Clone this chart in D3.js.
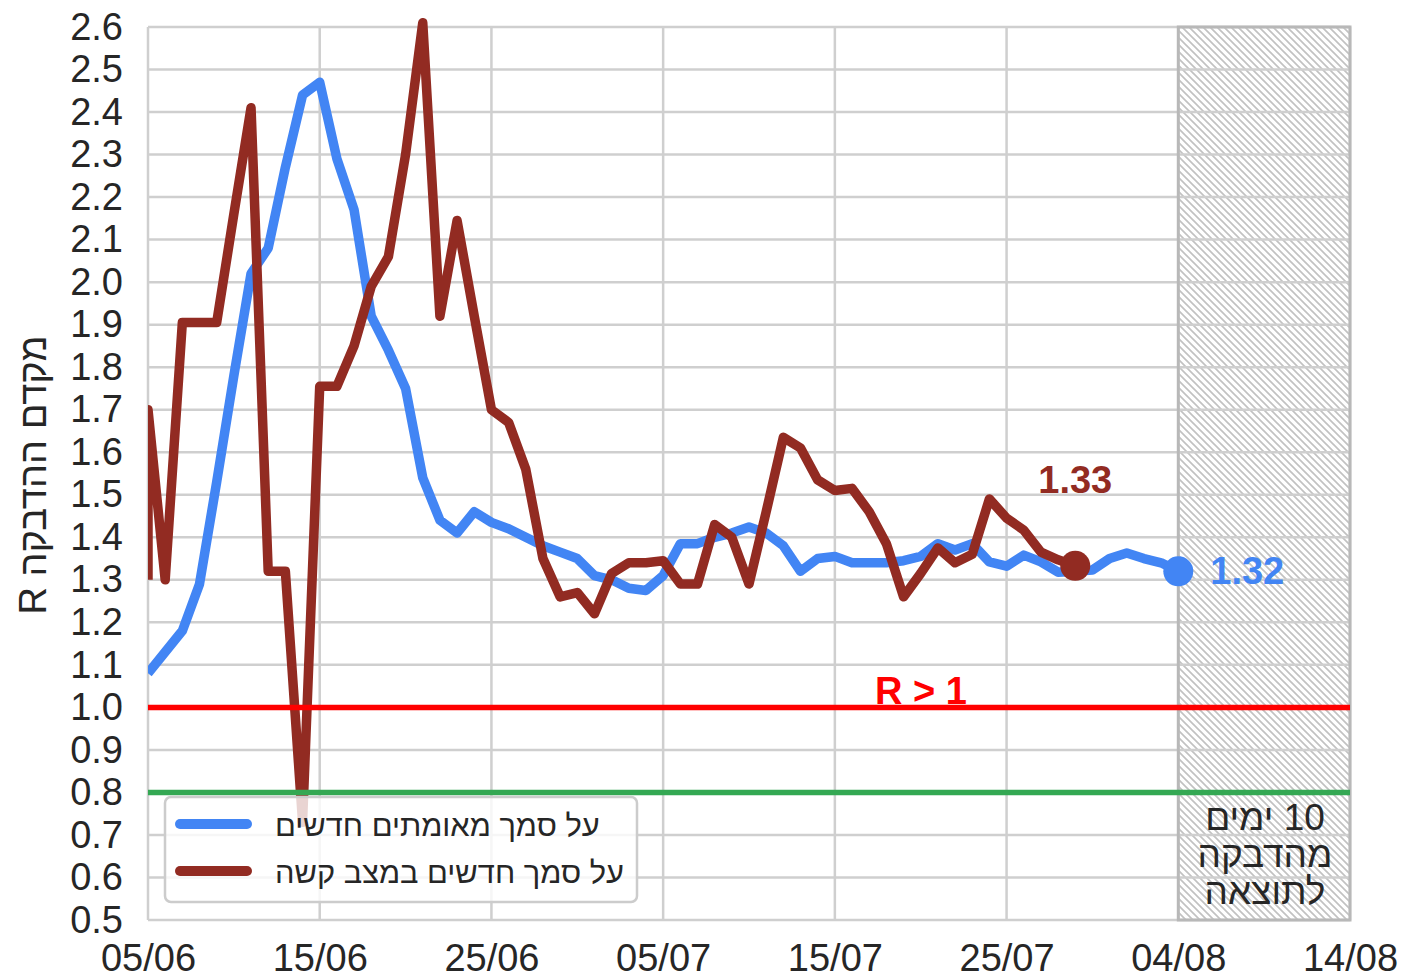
<!DOCTYPE html>
<html>
<head>
<meta charset="utf-8">
<script src="https://cdn.jsdelivr.net/npm/d3@7"></script>
<style>
  body { margin: 0; background: #fff; }
  svg text { font-family: "Liberation Sans", Arial, sans-serif; fill: #262626; }
</style>
</head>
<body>
<svg id="chart" width="1404" height="978"></svg>
<script>
(function() {
    // R estimate based on new confirmed cases, one value per day from 05/06
    const confirmedStart = "2020-06-05";
    const confirmedR = [1.08, 1.13, 1.18, 1.29, 1.53, 1.78, 2.02, 2.08, 2.27, 2.44,
        2.47, 2.29, 2.17, 1.92, 1.84, 1.75, 1.54, 1.44, 1.41, 1.46,
        1.435, 1.42, 1.40, 1.38, 1.365, 1.35, 1.31, 1.30, 1.28, 1.275,
        1.31, 1.385, 1.385, 1.40, 1.41, 1.424, 1.41, 1.38, 1.32, 1.35,
        1.355, 1.34, 1.34, 1.34, 1.345, 1.355, 1.385, 1.37, 1.385, 1.342,
        1.332, 1.358, 1.342, 1.318, 1.32, 1.323, 1.35, 1.363, 1.35, 1.34,
        1.32];

    // R estimate based on new severe cases, one value per day from 04/06
    const severeStart = "2020-06-04";
    const severeR = [1.30, 1.70, 1.30, 1.905, 1.905, 1.905, 2.16, 2.41, 1.32, 1.32,
        0.73, 1.755, 1.755, 1.85, 1.99, 2.06, 2.30, 2.61, 1.92, 2.145,
        1.92, 1.70, 1.67, 1.56, 1.35, 1.26, 1.27, 1.22, 1.315, 1.34,
        1.34, 1.345, 1.29, 1.29, 1.43, 1.40, 1.29, 1.46, 1.635, 1.61,
        1.535, 1.51, 1.515, 1.46, 1.385, 1.26, 1.315, 1.375, 1.34, 1.36,
        1.49, 1.445, 1.417, 1.365, 1.347, 1.333];

    const xTickDates = ["2020-06-05", "2020-06-15", "2020-06-25", "2020-07-05",
        "2020-07-15", "2020-07-25", "2020-08-04", "2020-08-14"];
    const yTickValues = [0.5, 0.6, 0.7, 0.8, 0.9, 1.0, 1.1, 1.2, 1.3, 1.4, 1.5,
        1.6, 1.7, 1.8, 1.9, 2.0, 2.1, 2.2, 2.3, 2.4, 2.5, 2.6];
    const thresholds = [1.0, 0.8];
    const lagStart = "2020-08-04";   // last 10 days: infection -> result lag

    const seriesNames = ["על סמך מאומתים חדשים", "על סמך חדשים במצב קשה"];
    const blue = "#4285f4", brown = "#922b22";

    const left = 148, right = 1350, top = 27, bottom = 920;
    const parse = d3.utcParse("%Y-%m-%d");

    const x = d3.scaleUtc()
        .domain([parse(xTickDates[0]), parse(xTickDates[xTickDates.length - 1])])
        .range([left, right])
        .clamp(true);
    const y = d3.scaleLinear().domain([0.5, 2.6]).range([bottom, top]);

    const toSeries = (start, values) => values.map((v, i) => ({
        date: d3.utcDay.offset(parse(start), i), value: v
    }));
    const confirmed = toSeries(confirmedStart, confirmedR);
    const severe = toSeries(severeStart, severeR);

    const svg = d3.select("#chart");
    const defs = svg.append("defs");

    // hatch for the last 10 days
    const pat = defs.append("pattern")
        .attr("id", "hatch")
        .attr("patternUnits", "userSpaceOnUse")
        .attr("width", 7).attr("height", 7);
    pat.append("path")
        .attr("d", "M0,0L7,7M-2,5L2,9M5,-2L9,2")
        .attr("stroke", "#c2c2c2")
        .attr("stroke-width", 1.7);

    defs.append("clipPath").attr("id", "plotclip")
        .append("rect")
        .attr("x", left).attr("y", 0)
        .attr("width", right - left).attr("height", 978);

    // hatched region
    svg.append("rect")
        .attr("x", x(parse(lagStart)))
        .attr("y", top)
        .attr("width", x(parse(xTickDates[xTickDates.length - 1])) - x(parse(lagStart)))
        .attr("height", bottom - top)
        .attr("fill", "url(#hatch)");

    // grid
    const grid = svg.append("g");
    grid.selectAll("line.h")
        .data(yTickValues)
        .join("line")
        .attr("x1", left).attr("x2", right)
        .attr("y1", d => y(d)).attr("y2", d => y(d))
        .attr("stroke", "#cfcfcf").attr("stroke-width", 2.5);
    grid.selectAll("line.v")
        .data(xTickDates)
        .join("line")
        .attr("x1", d => x(parse(d))).attr("x2", d => x(parse(d)))
        .attr("y1", top).attr("y2", bottom)
        .attr("stroke", "#cfcfcf").attr("stroke-width", 2.5);

    svg.append("rect")
        .attr("x", x(parse(lagStart)))
        .attr("y", top)
        .attr("width", right - x(parse(lagStart)))
        .attr("height", bottom - top)
        .attr("fill", "none")
        .attr("stroke", "#b8b8b8").attr("stroke-width", 3);

    // axes
    svg.append("g")
        .attr("transform", `translate(0,${bottom})`)
        .call(d3.axisBottom(x)
            .tickValues(xTickDates.map(parse))
            .tickFormat(d3.utcFormat("%d/%m"))
            .tickSize(0).tickPadding(24))
        .call(g => g.select(".domain").remove())
        .selectAll("text")
        .attr("font-size", 38).attr("fill", "#262626");

    svg.append("g")
        .attr("transform", `translate(${left},0)`)
        .call(d3.axisLeft(y)
            .tickValues(yTickValues)
            .tickFormat(d3.format(".1f"))
            .tickSize(0).tickPadding(25))
        .call(g => g.select(".domain").remove())
        .selectAll("text")
        .attr("font-size", 38).attr("fill", "#262626");

    svg.append("text")
        .attr("transform", "translate(46,475) rotate(-90)")
        .attr("text-anchor", "middle")
        .attr("direction", "rtl")
        .attr("font-size", 38)
        .text("מקדם ההדבקה R");

    // series
    const line = d3.line()
        .x(d => x(d.date))
        .y(d => y(d.value));
    const plot = svg.append("g").attr("clip-path", "url(#plotclip)");

    plot.append("path")
        .datum(confirmed)
        .attr("fill", "none")
        .attr("stroke", blue)
        .attr("stroke-width", 9.5)
        .attr("stroke-linejoin", "round")
        .attr("d", line);
    plot.append("path")
        .datum(severe)
        .attr("fill", "none")
        .attr("stroke", brown)
        .attr("stroke-width", 9.5)
        .attr("stroke-linejoin", "round")
        .attr("d", line);

    // threshold lines
    svg.selectAll("line.thr")
        .data(thresholds)
        .join("line")
        .attr("x1", left).attr("x2", right)
        .attr("y1", d => y(d)).attr("y2", d => y(d))
        .attr("stroke", (d, i) => i === 0 ? "#ff0000" : "#34a853")
        .attr("stroke-width", 5.5);

    svg.append("text")
        .attr("x", 921).attr("y", y(1.0) - 3)
        .attr("text-anchor", "middle")
        .attr("font-size", 38).attr("font-weight", "bold")
        .style("fill", "#ff0000")
        .text("R > 1");

    // end markers
    const lastC = confirmed[confirmed.length - 1];
    const lastS = severe[severe.length - 1];
    svg.append("circle")
        .attr("cx", x(lastC.date)).attr("cy", y(lastC.value))
        .attr("r", 15).attr("fill", blue);
    svg.append("circle")
        .attr("cx", x(lastS.date)).attr("cy", y(lastS.value))
        .attr("r", 15).attr("fill", brown);
    svg.append("text")
        .attr("x", x(lastC.date) + 32).attr("y", y(lastC.value) + 13)
        .attr("font-size", 38).attr("font-weight", "bold")
        .style("fill", blue)
        .text(d3.format(".2f")(lastC.value));
    svg.append("text")
        .attr("x", x(lastS.date)).attr("y", y(lastS.value) - 73)
        .attr("text-anchor", "middle")
        .attr("font-size", 38).attr("font-weight", "bold")
        .style("fill", brown)
        .text(d3.format(".2f")(lastS.value));

    // lag note
    const note = svg.append("text")
        .attr("text-anchor", "middle")
        .attr("direction", "rtl")
        .attr("font-size", 37);
    ["10 ימים", "מהדבקה", "לתוצאה"].forEach((t, i) => {
        note.append("tspan")
            .attr("x", 1265).attr("y", 830 + i * 37)
            .text(t);
    });

    // legend
    const legend = svg.append("g");
    legend.append("rect")
        .attr("x", 165).attr("y", 797)
        .attr("width", 472).attr("height", 105)
        .attr("rx", 6)
        .attr("fill", "#fff").attr("fill-opacity", 0.8)
        .attr("stroke", "#cccccc").attr("stroke-width", 2.5);
    seriesNames.forEach((name, i) => {
        const cy = 824 + i * 47;
        legend.append("line")
            .attr("x1", 180).attr("x2", 247)
            .attr("y1", cy).attr("y2", cy)
            .attr("stroke", i === 0 ? blue : brown)
            .attr("stroke-width", 10)
            .attr("stroke-linecap", "round");
        legend.append("text")
            .attr("x", 275).attr("y", cy + 12)
            .attr("font-size", 30.8)
            .text(name);
    });
})();
</script>
</body>
</html>
